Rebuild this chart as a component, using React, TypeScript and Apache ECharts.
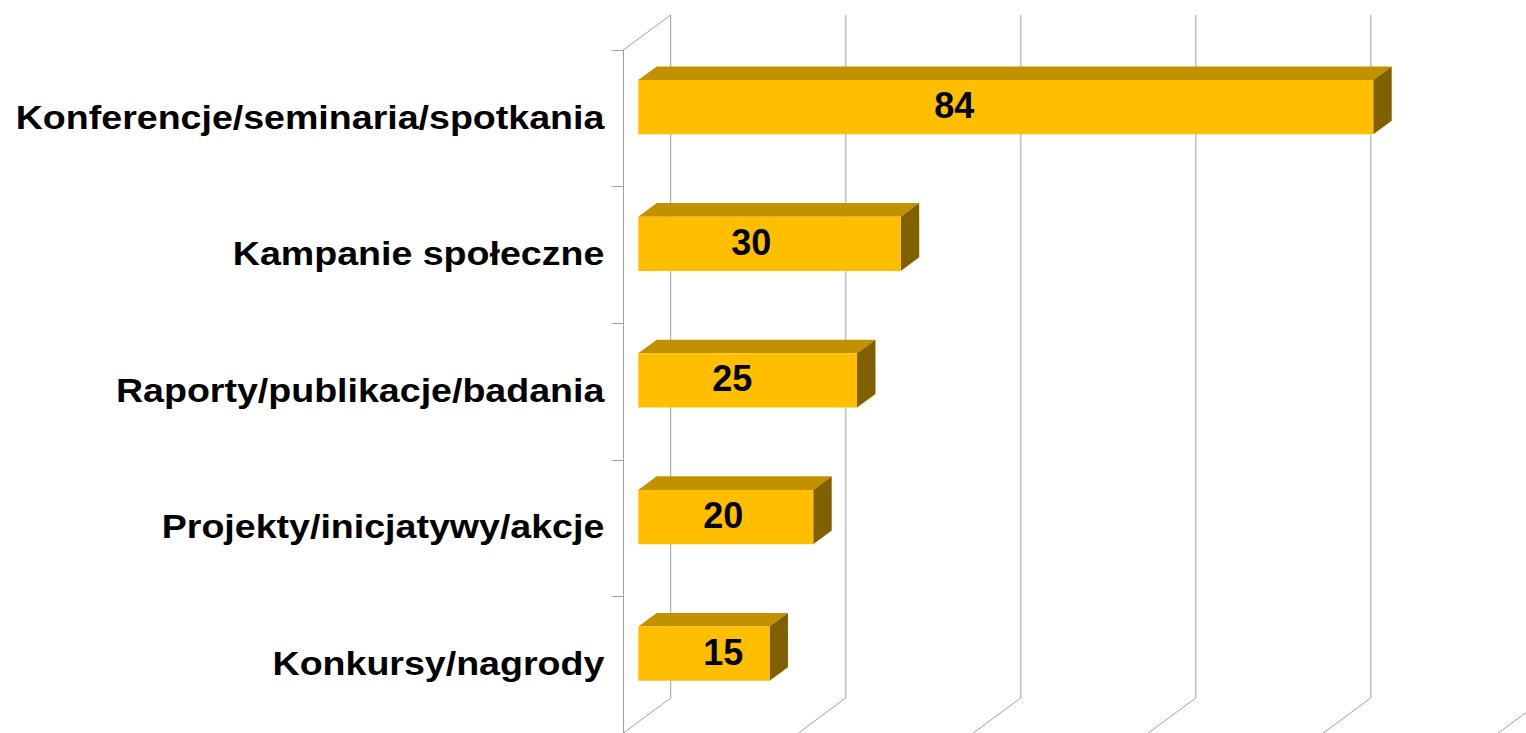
import React, { useEffect, useRef } from "react";
import * as echarts from "echarts";

const categories = [
  "Konferencje/seminaria/spotkania",
  "Kampanie społeczne",
  "Raporty/publikacje/badania",
  "Projekty/inicjatywy/akcje",
  "Konkursy/nagrody",
];
const values = [84, 30, 25, 20, 15];
const xTicks = [0, 20, 40, 60, 80, 100];

const FONT = '"Liberation Sans", Arial, Helvetica, sans-serif';
const DX = 47.4; // depth shift x (front plane -> back wall)
const DY = 35; // depth shift y
const F1 = 0.316; // bar front depth fraction
const F2 = 0.705; // bar back depth fraction
const BAR_RATIO = 0.397;
const LABEL_MARGIN = 19;
const LABEL_SCALE_X = 1.105;

export default function App() {
  const ref = useRef<HTMLDivElement>(null);
  useEffect(() => {
    if (!ref.current) return;
    const chart = echarts.init(ref.current, undefined, { renderer: "svg" });
    const N = categories.length;
    chart.setOption({
      animation: false,
      backgroundColor: "#ffffff",
      grid: { left: 623.3, top: 50, width: 875, height: 689, containLabel: false },
      xAxis: {
        type: "value",
        min: 0,
        max: 100,
        interval: 20,
        show: false,
      },
      yAxis: {
        type: "category",
        inverse: true,
        data: categories,
        axisLine: { show: true, lineStyle: { color: "#a0a0a0", width: 1 } },
        axisTick: { show: true, length: 11, lineStyle: { color: "#a0a0a0", width: 1 } },
        axisLabel: { show: false },
        splitLine: { show: false },
      },
      series: [
        {
          type: "custom",
          clip: false,
          silent: true,
          z: 1,
          data: xTicks.map((v) => [v, 0]),
          encode: { x: 0, y: 1 },
          renderItem: (params: any, api: any) => {
            const v = api.value(0);
            const p0 = api.coord([v, 0]);
            const band = api.size([0, 1])[1];
            const top = p0[1] - band / 2;
            const bottom = api.coord([v, N - 1])[1] + band / 2;
            const x = p0[0];
            const children: any[] = [
              {
                type: "line",
                shape: { x1: x + DX, y1: top - DY, x2: x + DX, y2: bottom - DY },
                style: { stroke: v === 0 ? "#a0a0a0" : "#c0c0c0", lineWidth: v === 0 ? 1 : 1.6 },
              },
              {
                type: "line",
                shape: { x1: x + DX, y1: bottom - DY, x2: x, y2: bottom },
                style: { stroke: "#a0a0a0", lineWidth: 1 },
              },
            ];
            if (v === 0) {
              children.push({
                type: "line",
                shape: { x1: x, y1: top, x2: x + DX, y2: top - DY },
                style: { stroke: "#a0a0a0", lineWidth: 1 },
              });
            }
            return { type: "group", children };
          },
        },
        {
          type: "custom",
          clip: false,
          silent: true,
          z: 3,
          data: categories.map((c, i) => [0, i]),
          encode: { x: 0, y: 1 },
          renderItem: (params: any, api: any) => {
            const i = api.value(1);
            const p = api.coord([0, i]);
            return {
              type: "text",
              x: p[0] - LABEL_MARGIN,
              y: p[1] - 1,
              scaleX: LABEL_SCALE_X,
              style: {
                x: 0,
                y: 0,
                text: categories[i],
                fill: "#000000",
                font: `bold 34px ${FONT}`,
                align: "right",
                verticalAlign: "middle",
              },
            };
          },
        },
        {
          type: "custom",
          clip: false,
          z: 2,
          data: values.map((v, i) => [v, i]),
          encode: { x: 0, y: 1 },
          renderItem: (params: any, api: any) => {
            const v = api.value(0);
            const i = api.value(1);
            const p0 = api.coord([0, i]);
            const p1 = api.coord([v, i]);
            const band = api.size([0, 1])[1];
            const h = band * BAR_RATIO;
            const fx = DX * F1, fy = DY * F1;
            const bx = DX * F2, by = DY * F2;
            const x0 = p0[0] + fx;
            const x1 = p1[0] + fx;
            const cy = p0[1] - fy;
            const yt = cy - h / 2;
            const yb = cy + h / 2;
            const ddx = bx - fx, ddy = by - fy;
            const len = x1 - x0;
            const lx = x0 + Math.max(len * 0.43, 85);
            return {
              type: "group",
              children: [
                {
                  type: "polygon",
                  shape: { points: [[x0, yt], [x1, yt], [x1 + ddx, yt - ddy], [x0 + ddx, yt - ddy]] },
                  style: { fill: "#C29100" },
                },
                {
                  type: "polygon",
                  shape: { points: [[x1, yt], [x1 + ddx, yt - ddy], [x1 + ddx, yb - ddy], [x1, yb]] },
                  style: { fill: "#806000" },
                },
                {
                  type: "rect",
                  shape: { x: x0, y: yt, width: len, height: h },
                  style: { fill: "#FFBF00" },
                },
                {
                  type: "text",
                  style: {
                    x: lx,
                    y: cy - 1.5,
                    text: String(v),
                    fill: "#000000",
                    font: `bold 36px ${FONT}`,
                    align: "center",
                    verticalAlign: "middle",
                  },
                },
              ],
            };
          },
        },
      ],
    });
    return () => chart.dispose();
  }, []);
  return (
    <div
      ref={ref}
      style={{ position: "absolute", left: 0, top: 0, width: 1526, height: 733 }}
    />
  );
}
